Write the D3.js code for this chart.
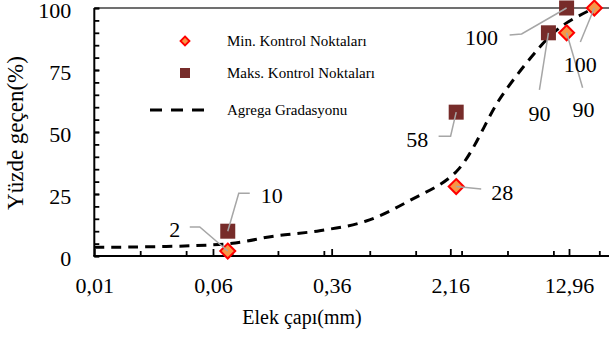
<!DOCTYPE html>
<html><head><meta charset="utf-8">
<script src="https://cdn.jsdelivr.net/npm/d3@7"></script>
<style>
html,body{margin:0;padding:0;background:#fff;}
</style></head>
<body>
<svg id="c" width="609" height="342"></svg>
<script>
// ---- data ----
const xTickValues = [0.01, 0.06, 0.36, 2.16, 12.96];
const xTickLabels = ["0,01", "0,06", "0,36", "2,16", "12,96"];
const xMinorTicks = [0.02, 0.04, 0.08, 0.16, 0.32, 0.64, 1.28, 2.56, 5.12, 10.24, 20.48];
const yTickValues = [0, 25, 50, 75, 100];
const minSieve = [0.075, 2.36, 12.5, 19];
const minValues = [2, 28, 90, 100];
const maxSieve = [0.075, 2.36, 9.5, 12.5];
const maxValues = [10, 58, 90, 100];
const gradSieve = [0.01, 0.075, 0.15, 0.3, 0.6, 1.18, 2.36, 4.75, 9.5, 12.5, 19];
const gradValues = [3.5, 4.9, 8, 10.2, 14, 22.5, 34, 65, 88, 94, 100];
const legendLabels = ["Min. Kontrol Noktaları", "Maks. Kontrol Noktaları", "Agrega Gradasyonu"];
// label annotation offsets (relative to each point): label dx, label baseline dy, leader bends
const minLabelLayout = [
  {dx:-53, dy:-14, leader:[[-28,-24],[-38,-24]]},
  {dx:46, dy:13, leader:[[25,2.5]]},
  {dx:17, dy:84, leader:[[16,55]]},
  {dx:-14, dy:64, leader:[[-14,34]]}
];
const maxLabelLayout = [
  {dx:44, dy:-28, leader:[[11,-38],[22,-38]]},
  {dx:-39, dy:35, leader:[[-5.6,24],[-17.6,24]]},
  {dx:-9, dy:88, leader:[[-9,57]]},
  {dx:-85, dy:37, leader:[[-45,26],[-57,27]]}
];

const FONT = '"Liberation Serif", "Times New Roman", "DejaVu Serif", serif';
const W = 609, H = 342;
const svg = d3.select("#c");
const xs = d3.scaleLog().domain([0.01, 12.96]).range([94.3, 569]);
const ys = d3.scaleLinear().domain([0, 100]).range([256, 8]);
const x0 = xs(0.01);

// top border line
svg.append("line").attr("x1", x0).attr("x2", W).attr("y1", ys(100)).attr("y2", ys(100))
  .attr("stroke", "#404040").attr("stroke-width", 1.3);

// y axis
const gy = svg.append("g").attr("transform", `translate(${x0},0)`);
gy.call(d3.axisLeft(ys).tickValues(d3.range(0, 101, 5)).tickSize(-5).tickFormat(""));
const gy2 = svg.append("g").attr("transform", `translate(${x0},0)`);
gy2.call(d3.axisLeft(ys).tickValues(yTickValues).tickSize(-5).tickPadding(23).tickFormat(d3.format("d")));
gy.selectAll("path.domain").remove();
gy2.selectAll("path.domain").remove();
svg.append("line").attr("x1", x0).attr("x2", x0).attr("y1", ys(100)).attr("y2", ys(0)).attr("stroke", "#000").attr("stroke-width", 2);
gy2.selectAll("text").attr("dy", "0.45em");

// x axis
const gx = svg.append("g").attr("transform", `translate(0,${ys(0)})`);
gx.call(d3.axisBottom(xs).tickValues(xMinorTicks).tickSize(-5).tickFormat(""));
const gxMaj = svg.append("g").attr("transform", `translate(0,${ys(0)})`);
gxMaj.call(d3.axisBottom(xs).tickValues(xTickValues).tickSize(-7).tickPadding(21)
  .tickFormat((d, i) => xTickLabels[i]));
gx.selectAll("path.domain").remove();
gxMaj.selectAll("path.domain").remove();
svg.append("line").attr("x1", x0 - 1).attr("x2", W).attr("y1", ys(0)).attr("y2", ys(0))
  .attr("stroke", "#000").attr("stroke-width", 2);
svg.selectAll("g.tick line").attr("stroke", "#000").attr("stroke-width", 1.8);
svg.selectAll("g.tick text").attr("fill", "#000").attr("font-size", null)
  .style("font-size", "22px").style("font-family", FONT);

// axis titles
svg.append("text").attr("x", 302).attr("y", 324).attr("text-anchor", "middle")
  .style("font-size", "20px").style("font-family", FONT).text("Elek çapı(mm)");
svg.append("text").attr("transform", `translate(23,${(ys(0) + ys(100)) / 2 + 1}) rotate(-90)`)
  .attr("text-anchor", "middle").style("font-size", "23px").style("font-family", FONT).text("Yüzde geçen(%)");

// gradation curve
const line = d3.line().x(d => xs(d[0])).y(d => ys(d[1])).curve(d3.curveCatmullRom.alpha(0.5));
svg.append("path").datum(gradSieve.map((s, i) => [s, gradValues[i]]))
  .attr("d", line).attr("fill", "none").attr("stroke", "#000")
  .attr("stroke-width", 3).attr("stroke-dasharray", "10,7");

// markers
const maxData = maxSieve.map((s, i) => ({s, v: maxValues[i], L: maxLabelLayout[i]}));
const minData = minSieve.map((s, i) => ({s, v: minValues[i], L: minLabelLayout[i]}));
const SQ = 15, DI = 7.5;
svg.append("g").selectAll("rect").data(maxData).join("rect")
  .attr("x", d => xs(d.s) - SQ / 2).attr("y", d => ys(d.v) - SQ / 2)
  .attr("width", SQ).attr("height", SQ).attr("fill", "#772c2a");
const diamond = (cx, cy, r) => `M${cx},${cy - r}L${cx + r},${cy}L${cx},${cy + r}L${cx - r},${cy}Z`;
svg.append("g").selectAll("path").data(minData).join("path")
  .attr("d", d => diamond(xs(d.s), ys(d.v), DI))
  .attr("fill", "#f79646").attr("stroke", "#ff0000").attr("stroke-width", 2);

// leaders + labels
function annotate(data) {
  data.forEach(d => {
    const px = xs(d.s), py = ys(d.v);
    const pts = [[px, py]].concat(d.L.leader.map(p => [px + p[0], py + p[1]]));
    svg.append("polyline").attr("points", pts.map(p => p.join(",")).join(" "))
      .attr("fill", "none").attr("stroke", "#a6a6a6").attr("stroke-width", 1.5);
    svg.append("text").attr("x", px + d.L.dx).attr("y", py + d.L.dy)
      .attr("text-anchor", "middle").style("font-size", "22px").style("font-family", FONT).text(d.v);
  });
}
annotate(maxData);
annotate(minData);

// legend
const lg = svg.append("g");
lg.append("path").attr("d", diamond(185, 41, 4.5)).attr("fill", "#f79646").attr("stroke", "#ff0000").attr("stroke-width", 1.8);
lg.append("rect").attr("x", 180).attr("y", 68).attr("width", 10).attr("height", 10).attr("fill", "#772c2a");
lg.append("line").attr("x1", 150).attr("x2", 207).attr("y1", 110).attr("y2", 110)
  .attr("stroke", "#000").attr("stroke-width", 3).attr("stroke-dasharray", "12,9");
[41, 73, 110].forEach((y, i) => {
  lg.append("text").attr("x", 227).attr("y", y + 5).style("font-size", "15px").style("font-family", FONT).text(legendLabels[i]);
});
</script>
</body></html>
